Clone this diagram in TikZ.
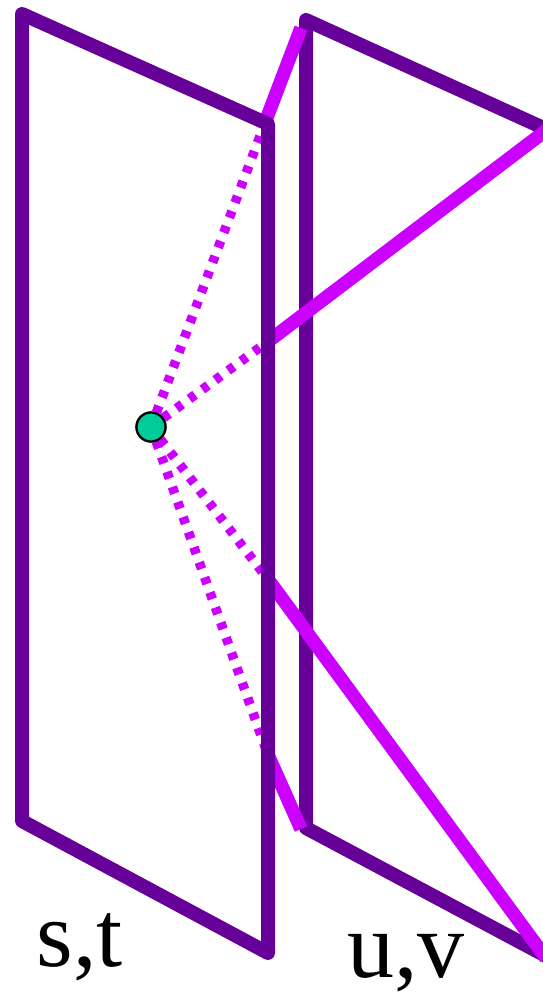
\documentclass[tikz,border=0pt]{standalone}
\usepackage{fontspec}
\setmainfont{Liberation Serif}
\definecolor{planepurple}{HTML}{660099}
\definecolor{raymagenta}{HTML}{CC00FF}
\definecolor{eyegreen}{HTML}{00CC99}
\tikzset{
  plane/.style={planepurple, line width=14pt, line join=round, line cap=round},
  raysolid/.style={raymagenta, line width=13.5pt},
  raydots/.style={raymagenta, line width=9.5pt, dash pattern=on 7pt off 9pt},
  eye/.style={circle, draw=black, fill=eyegreen, line width=2.2pt, minimum size=29pt, inner sep=0pt},
  planelabel/.style={black, font=\fontsize{94}{94}\selectfont, inner sep=0pt}
}

\begin{document}
\begin{tikzpicture}[x=1pt, y=-1pt]
\useasboundingbox (0,0) rectangle (543,997);
\clip (0,0) rectangle (543,997);

% Corners of the two planes
\coordinate (st1) at (22,14);
\coordinate (st2) at (268,124);
\coordinate (st3) at (268,953);
\coordinate (st4) at (22,821);
\coordinate (uv1) at (306,20);
\coordinate (uv2) at (548,130);
\coordinate (uv3) at (548,957);
\coordinate (uv4) at (306,828);

% Where the rays pass through the first plane
\coordinate (hit1) at (266,120);
\coordinate (hit2) at (270,340);
\coordinate (hit3) at (270,582);
\coordinate (hit4) at (268,755);
% Where the rays end
\coordinate (end1) at (301,28);
\coordinate (end2) at (548,129);
\coordinate (end3) at (546,958);
\coordinate (end4) at (301,829);

% Second plane
\draw[plane] (uv2) -- (uv1) -- (uv4) -- (uv3);

% Eye point (placed first, so the rays can start from it)
\node[eye] (eye) at (151,427) {};

% Rays behind the first plane
\draw[raysolid] (hit1) -- (end1);
\draw[raysolid] (hit2) -- (end2);
\draw[raysolid] (hit3) -- (end3);
\draw[raysolid] (hit4) -- (end4);

% Rays in front of the first plane
\draw[raydots] (eye) -- (hit1);
\draw[raydots] (eye) -- (hit2);
\draw[raydots] (eye) -- (hit3);
\draw[raydots] (eye) -- (hit4);

% First plane
\draw[plane] (st1) -- (st2) -- (st3) -- (st4) -- cycle;

% Labels
\node[planelabel] (stlabel) at (80,947) {s,t};
\node[planelabel] (uvlabel) at (406,963) {u,v};

% Redraw on top of the dotted rays
\node[eye] at (eye) {};
\end{tikzpicture}
\end{document}
